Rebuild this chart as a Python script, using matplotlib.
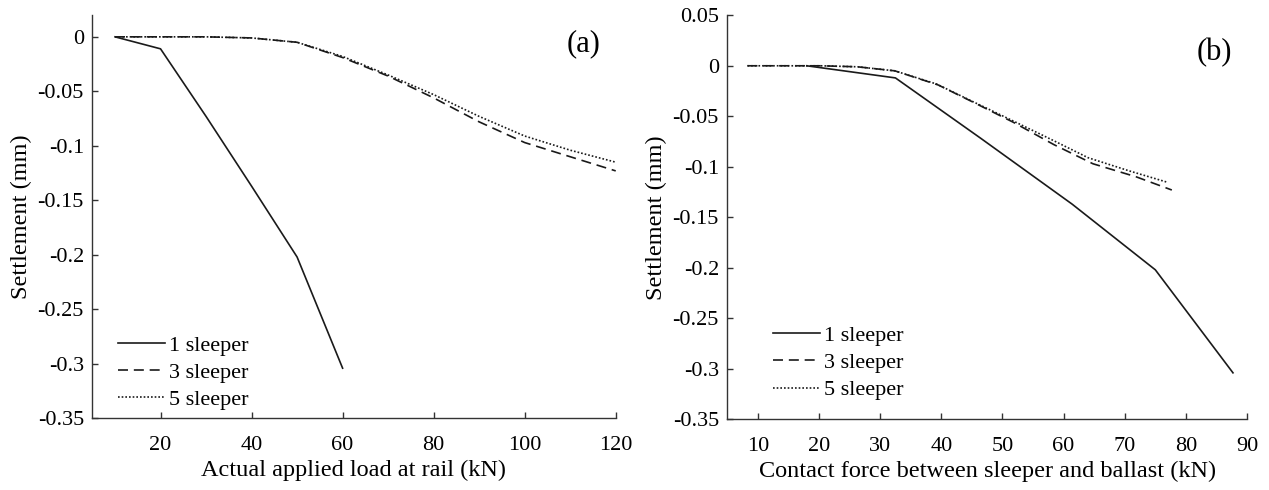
import numpy as np
import matplotlib.pyplot as plt

plt.rcParams['font.family'] = ['Liberation Serif', 'DejaVu Serif']
plt.rcParams['font.size'] = 16

# --- data ---
labels = ["1 sleeper", "3 sleeper", "5 sleeper"]

# (a) settlement vs actual applied load at rail
load_1 = [10, 20, 30, 40, 50, 60]
sett_1 = [0, -0.011, -0.073, -0.137, -0.202, -0.304]
load_35 = [10, 20, 30, 40, 50, 60, 70, 80, 90, 100, 110, 120]
sett_3 = [0, 0, 0, -0.001, -0.005, -0.019, -0.036, -0.056, -0.078, -0.097, -0.110, -0.123]
sett_5 = [0, 0, 0, -0.001, -0.005, -0.018, -0.035, -0.053, -0.073, -0.091, -0.104, -0.115]

# (b) settlement vs contact force between sleeper and ballast
force_1 = [18.0, 32.5, 46.5, 61.4, 75.0, 87.7]
sett_1b = [0, -0.012, -0.072, -0.137, -0.202, -0.304]
force_3 = [8.3, 14.3, 20.3, 26.3, 32.4, 39.5, 45.2, 51.8, 58.4, 64.8, 71.9, 77.7]
force_5 = [8.3, 14.3, 20.3, 26.3, 32.4, 39.2, 45.0, 51.2, 58.0, 64.0, 70.7, 76.8]

ink = "#1a1a1a"
fig = plt.figure(figsize=(12.69, 4.90), dpi=100)
axa = fig.add_axes([0.0727, 0.1463, 0.4125, 0.823])
axb = fig.add_axes([0.5731, 0.1443, 0.4096, 0.8245])

def style(ax):
    for s in ("top", "right"):
        ax.spines[s].set_visible(False)
    for s in ("left", "bottom"):
        ax.spines[s].set_color("#333333")
        ax.spines[s].set_linewidth(1.0)
    ax.tick_params(direction="in", length=4, width=1, color="#333333", labelsize=16, pad=6)
    ax.tick_params(axis="x", pad=13)

dash = (6, 3.5)
dot = (1, 1.2)

axa.plot(load_1, sett_1, "-", color=ink, lw=1.2, label=labels[0])
axa.plot(load_35, sett_3, "--", color=ink, lw=1.2, dashes=dash, label=labels[1])
axa.plot(load_35, sett_5, ":", color=ink, lw=1.2, dashes=dot, label=labels[2])
axa.set_xlim(5, 120); axa.set_ylim(-0.35, 0.02)
axa.set_xticks([20, 40, 60, 80, 100, 120])
axa.set_yticks(np.arange(-0.35, 0.001, 0.05))
axa.set_yticklabels(["-0.35", "-0.3", "-0.25", "-0.2", "-0.15", "-0.1", "-0.05", "0"])
axa.set_xlabel("Actual applied load at rail (kN)", fontsize=17.5, labelpad=3)
axa.set_ylabel("Settlement (mm)", fontsize=17.5)
axa.text(113, -0.0065, "(a)", fontsize=22, ha="center", va="center")
style(axa)
axa.legend(loc="lower left", bbox_to_anchor=(0.049, 0.02), frameon=False, borderpad=0,
           borderaxespad=0, handlelength=2.1, handletextpad=0.2, labelspacing=0.3)

axb.plot(force_1, sett_1b, "-", color=ink, lw=1.2, label=labels[0])
axb.plot(force_3, sett_3, "--", color=ink, lw=1.2, dashes=dash, label=labels[1])
axb.plot(force_5, sett_5, ":", color=ink, lw=1.2, dashes=dot, label=labels[2])
axb.set_xlim(5, 90); axb.set_ylim(-0.35, 0.05)
axb.set_xticks(np.arange(10, 91, 10))
axb.set_yticks(np.arange(-0.35, 0.051, 0.05))
axb.set_yticklabels(["-0.35", "-0.3", "-0.25", "-0.2", "-0.15", "-0.1", "-0.05", "0", "0.05"])
axb.set_xlabel("Contact force between sleeper and ballast (kN)", fontsize=17.5, labelpad=3)
axb.set_ylabel("Settlement (mm)", fontsize=17.5)
axb.text(84.7, 0.0127, "(b)", fontsize=22, ha="center", va="center")
style(axb)
axb.legend(loc="lower left", bbox_to_anchor=(0.0885, 0.047), frameon=False, borderpad=0,
           borderaxespad=0, handlelength=2.1, handletextpad=0.2, labelspacing=0.3)

fig.savefig("out.png", dpi=100)
